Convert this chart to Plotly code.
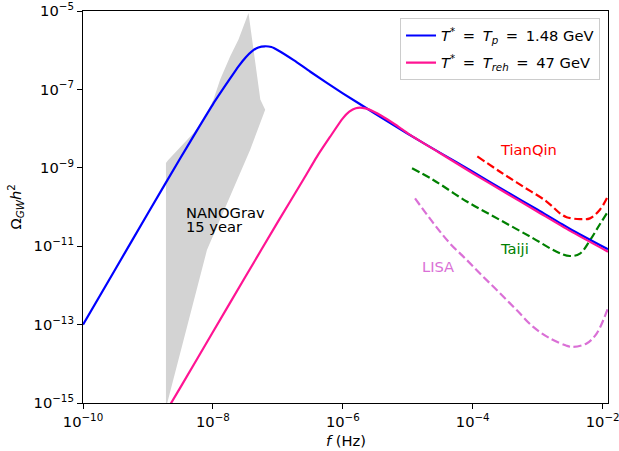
import numpy as np
import plotly.graph_objects as go

# ---- data (log10 values) ----
blue_log_f = [-10.0, -9.5, -9.0, -8.5, -8.0, -7.75, -7.6, -7.5, -7.4, -7.3, -7.2, -7.1, -7.0,
              -6.75, -6.5, -6.0, -5.5, -5.0, -4.5, -4.0, -3.5, -3.0, -2.5, -1.917]
blue_log_om = [-13.0, -11.58, -10.16, -8.75, -7.38, -6.76, -6.40, -6.19, -6.03, -5.93, -5.90, -5.92, -6.0,
               -6.26, -6.55, -7.10, -7.62, -8.13, -8.62, -9.10, -9.59, -10.07, -10.56, -11.08]

pink_log_f = [-8.70, -8.5, -8.0, -7.5, -7.0, -6.6, -6.4, -6.2, -6.0, -5.9, -5.8, -5.7, -5.6,
              -5.4, -5.2, -5.0, -4.5, -4.0, -3.5, -3.0, -2.5, -1.917]
pink_log_om = [-15.16, -14.6, -13.19, -11.78, -10.38, -9.28, -8.72, -8.22, -7.74, -7.57, -7.48, -7.47, -7.51,
               -7.68, -7.89, -8.12, -8.63, -9.14, -9.63, -10.12, -10.61, -11.14]

nano_log_f = [-8.723, -8.723, -8.688, -8.452, -8.298, -8.145, -7.991, -7.888, -7.735, -7.606, -7.452,
              -7.27, -7.195, -7.426, -8.092, -8.703]
nano_log_om = [-15.0, -8.88, -8.80, -8.37, -8.11, -7.77, -7.26, -6.75, -6.16, -5.73, -5.05,
               -7.26, -7.52, -8.54, -11.10, -15.0]

tianqin_log_f = [-3.929, -3.580, -3.222, -2.862, -2.657, -2.554, -2.349, -2.195, -2.042, -1.923]
tianqin_log_om = [-8.71, -9.10, -9.48, -9.86, -10.16, -10.26, -10.31, -10.29, -10.07, -9.74]

taiji_log_f = [-4.934, -4.606, -4.092, -3.580, -3.068, -2.708, -2.503, -2.349, -2.195, -2.042, -1.923]
taiji_log_om = [-9.01, -9.31, -9.86, -10.33, -10.80, -11.14, -11.25, -11.19, -10.85, -10.44, -10.13]

lisa_log_f = [-4.888, -4.606, -4.349, -4.092, -3.837, -3.580, -3.323, -3.068, -2.811, -2.554, -2.452,
              -2.246, -2.092, -1.938, -1.923]
lisa_log_om = [-9.78, -10.41, -10.93, -11.35, -11.78, -12.20, -12.63, -13.06, -13.35, -13.54, -13.57,
               -13.48, -13.23, -12.67, -12.60]

x_tick_exp = [-10, -8, -6, -4, -2]
y_tick_exp = [-15, -13, -11, -9, -7, -5]

TS = "\u2009"
legend_blue = ("<i>T</i><sup>*</sup>" + TS + " = " + TS + "<i>T</i><sub><i>p</i></sub>" + TS + " = "
               + TS + "1.48 GeV")
legend_pink = ("<i>T</i><sup>*</sup>" + TS + " = " + TS + "<i>T</i><sub><i>reh</i></sub>" + TS + " = "
               + TS + "47 GeV")

FONT = "DejaVu Sans"
FS = 14.7
LW = 2.2


def p(v):
    return 10 ** np.array(v, dtype=float)


fig = go.Figure()

fig.add_trace(go.Scatter(x=p(nano_log_f), y=p(nano_log_om), mode="lines", fill="toself",
                         fillcolor="#d3d3d3", line=dict(width=0, color="#d3d3d3"),
                         showlegend=False, hoverinfo="skip"))

dash = "8.1px,3.5px"
fig.add_trace(go.Scatter(x=p(tianqin_log_f), y=p(tianqin_log_om), mode="lines",
                         line=dict(color="red", width=LW, dash=dash, shape="spline"), showlegend=False))
fig.add_trace(go.Scatter(x=p(taiji_log_f), y=p(taiji_log_om), mode="lines",
                         line=dict(color="green", width=LW, dash=dash, shape="spline"), showlegend=False))
fig.add_trace(go.Scatter(x=p(lisa_log_f), y=p(lisa_log_om), mode="lines",
                         line=dict(color="orchid", width=LW, dash=dash, shape="spline"), showlegend=False))

fig.add_trace(go.Scatter(x=p(blue_log_f), y=p(blue_log_om), mode="lines", name=legend_blue,
                         legendgroup="a",
                         line=dict(color="#0000ff", width=LW, shape="spline", smoothing=0.6)))
fig.add_trace(go.Scatter(x=p(pink_log_f), y=p(pink_log_om), mode="lines", name=legend_pink,
                         legendgroup="b",
                         line=dict(color="#ff1493", width=LW, shape="spline", smoothing=0.6)))

axis_common = dict(type="log", showline=True, mirror=True, linecolor="black", linewidth=1.2,
                   ticks="outside", ticklen=5, tickwidth=1.2, tickcolor="black",
                   showgrid=False, zeroline=False, automargin=False, ticklabeloverflow="allow",
                   tickfont=dict(family=FONT, size=FS, color="black"))

fig.update_layout(
    width=619, height=451,
    margin=dict(l=83, r=11, t=11, b=48, autoexpand=False),
    paper_bgcolor="white", plot_bgcolor="white",
    font=dict(family=FONT, size=FS, color="black"),
    xaxis=dict(range=[-10, -1.917],
               tickvals=[10.0 ** e for e in x_tick_exp],
               ticktext=["10<sup>\u2212%d</sup>" % (-e) for e in x_tick_exp],
               **axis_common),
    yaxis=dict(range=[-15, -5],
               tickvals=[10.0 ** e for e in y_tick_exp],
               ticktext=["10<sup>\u2212%d</sup>" % (-e) for e in y_tick_exp],
               **axis_common),
    legend=dict(x=0.9848, xanchor="right", y=0.981, yanchor="top",
                bgcolor="rgba(255,255,255,0.8)", bordercolor="#cccccc", borderwidth=1,
                font=dict(family=FONT, size=FS, color="black"),
                tracegroupgap=5, itemwidth=30),
    showlegend=True,
)

annots = [
    dict(text="NANOGrav", x=-8.441, y=-10.143, xanchor="left", yanchor="middle", color="black"),
    dict(text="15 year", x=-8.441, y=-10.501, xanchor="left", yanchor="middle", color="black"),
    dict(text="TianQin", x=-3.145, y=-8.54, xanchor="center", yanchor="middle", color="red"),
    dict(text="Taiji", x=-3.349, y=-11.07, xanchor="center", yanchor="middle", color="green"),
    dict(text="LISA", x=-4.529, y=-11.52, xanchor="center", yanchor="middle", color="orchid"),
]
for a in annots:
    fig.add_annotation(x=a["x"], y=a["y"], xref="x", yref="y", text=a["text"], showarrow=False,
                       xanchor=a["xanchor"], yanchor=a["yanchor"],
                       font=dict(family=FONT, size=FS, color=a["color"]))

fig.add_annotation(text="<i>f</i> (Hz)", xref="paper", yref="paper", x=0.5, y=-0.0944,
                   xanchor="center", yanchor="middle", showarrow=False,
                   font=dict(family=FONT, size=FS, color="black"))
fig.add_annotation(text="\u03a9<sub><i>GW</i></sub><i>h</i><sup>2</sup>", xref="paper", yref="paper",
                   x=-0.1295, y=0.499, xanchor="center", yanchor="middle", textangle=-90,
                   showarrow=False, font=dict(family=FONT, size=FS, color="black"))

fig.write_html("out.html", config={"displayModeBar": False},
               post_script="document.body.style.margin='0px';")
